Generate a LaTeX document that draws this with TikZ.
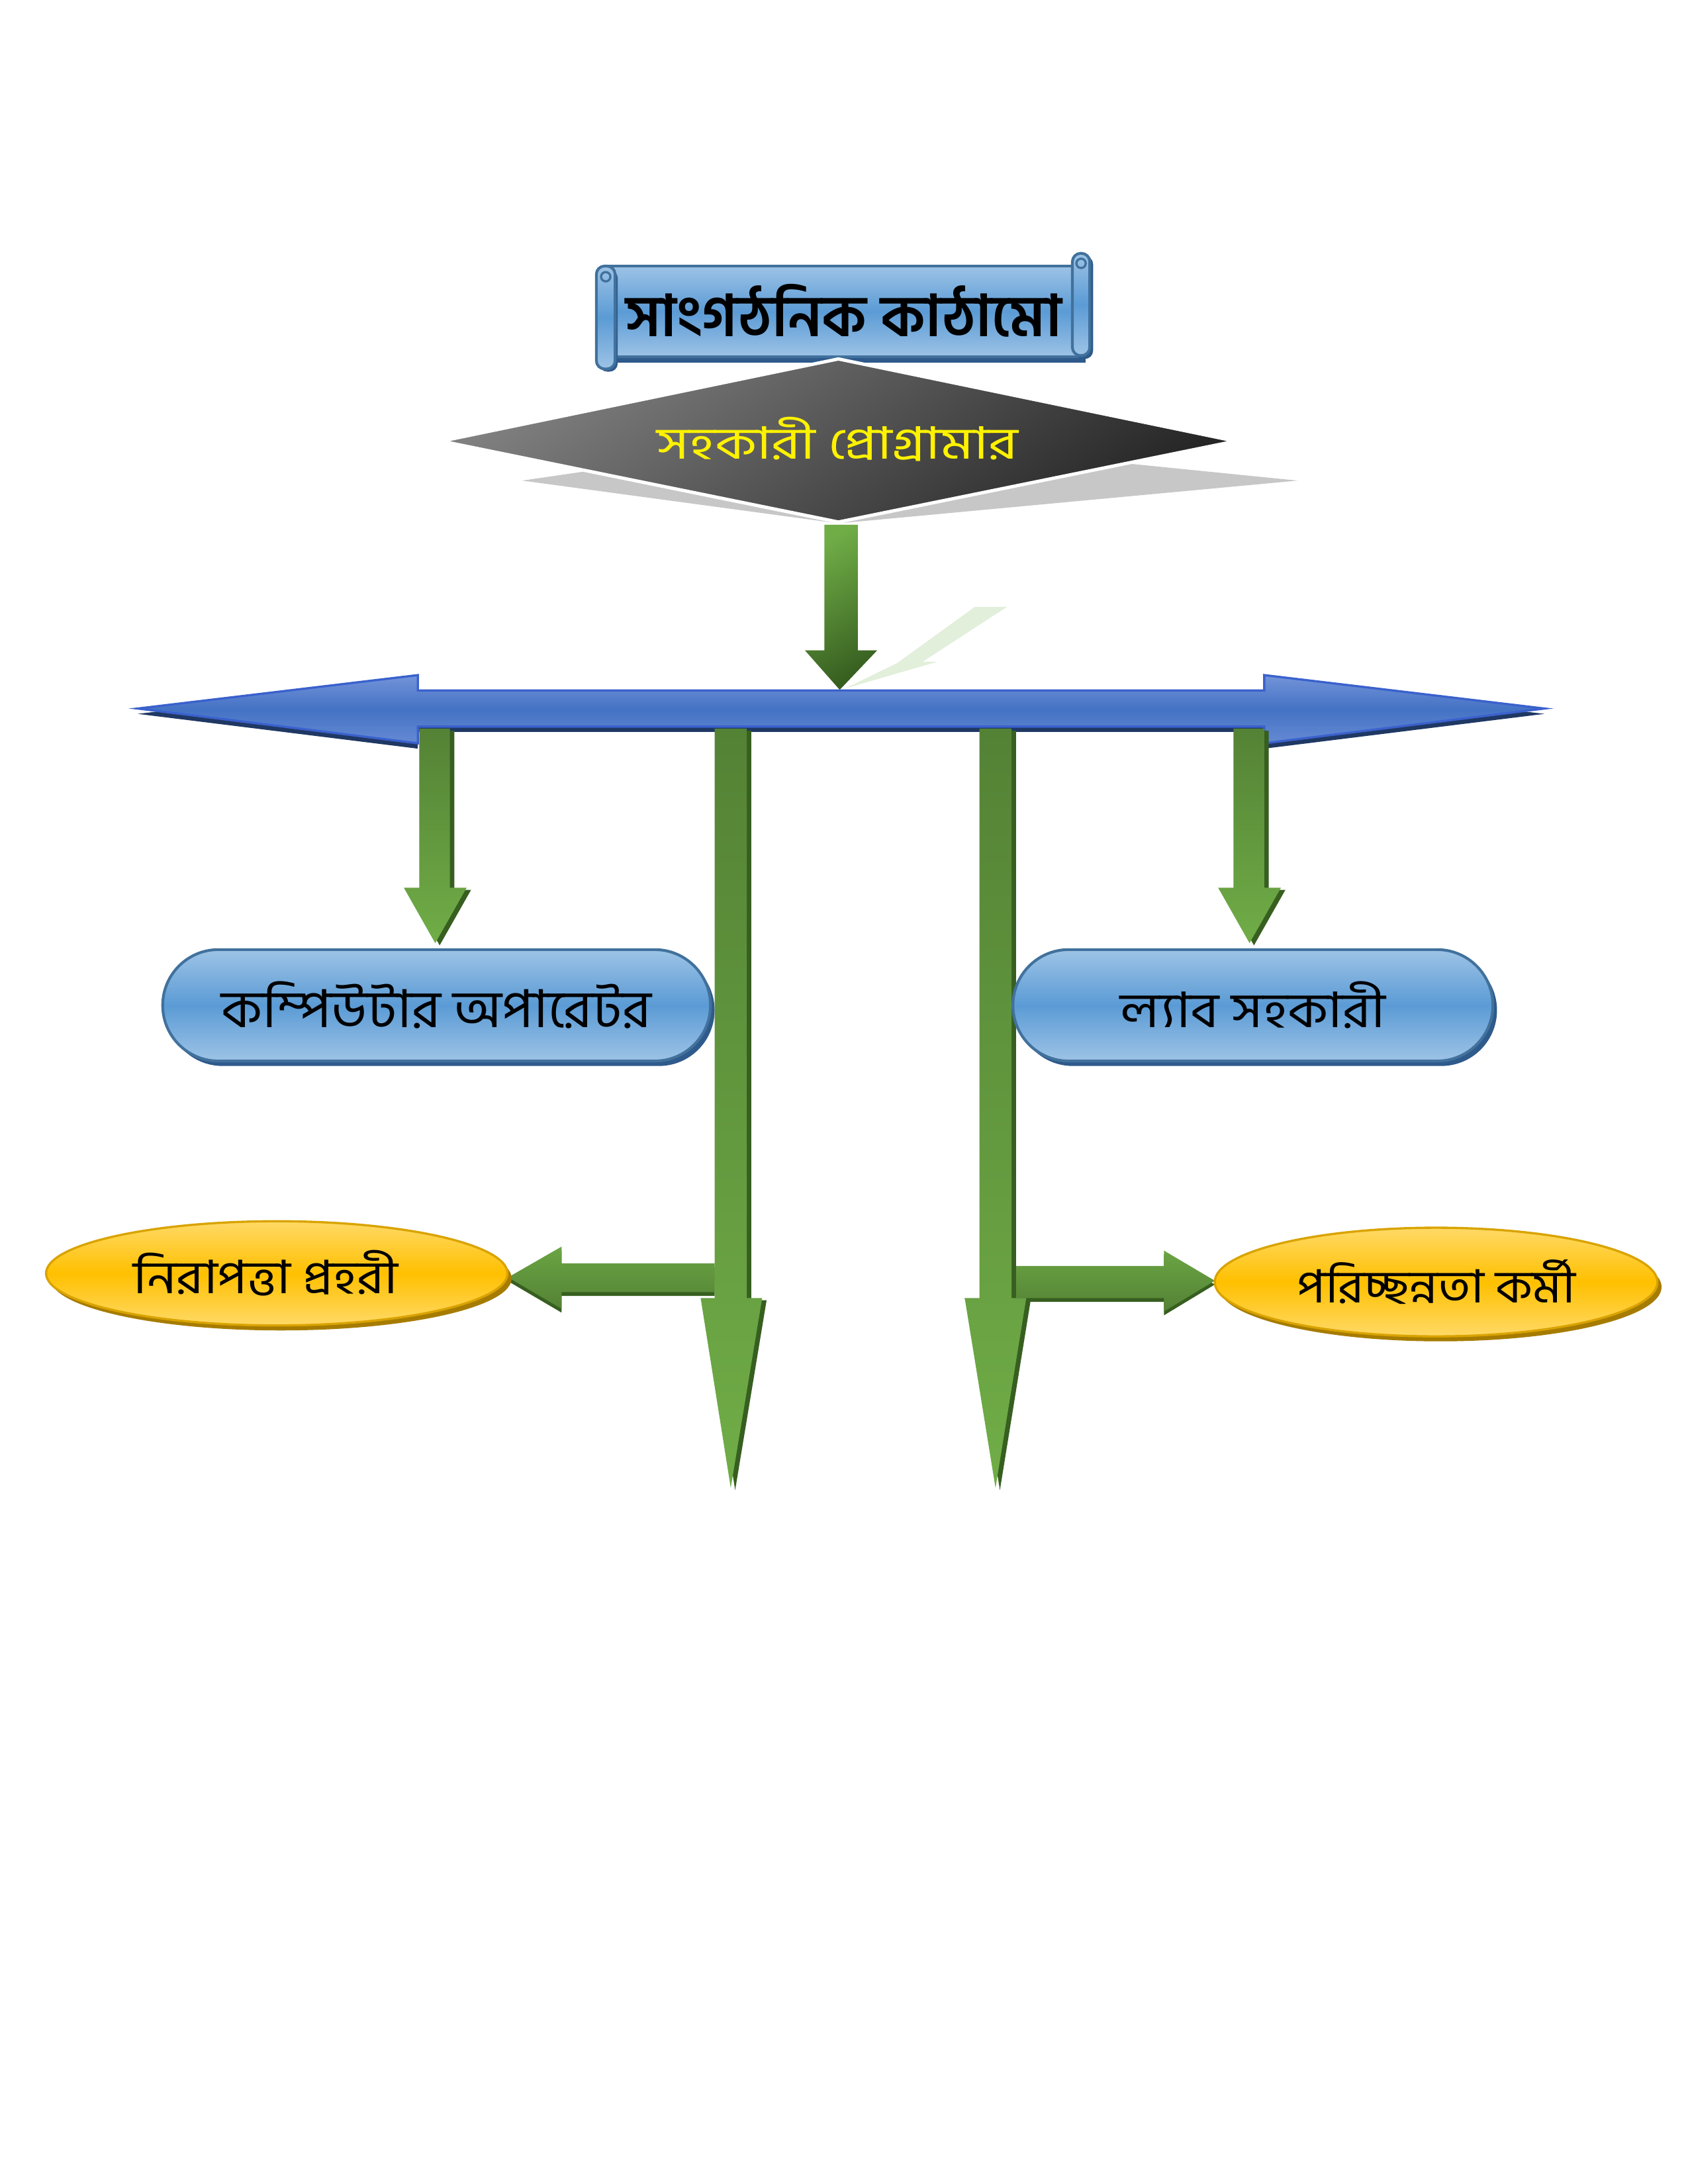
\documentclass[tikz,border=0pt]{standalone}
\usepackage{fontspec}
\newfontfamily\bn[Script=Bengali]{Hind Siliguri}
\usetikzlibrary{shapes.misc,shapes.geometric,shadows}
\definecolor{blueL}{HTML}{9DC3E6}
\definecolor{blueM}{HTML}{5B9BD5}
\definecolor{blueE}{HTML}{41719C}
\definecolor{blueS}{HTML}{2E5A8C}
\definecolor{barL}{HTML}{7394D9}
\definecolor{barM}{HTML}{4472C4}
\definecolor{barS}{HTML}{1F3864}
\definecolor{grnL}{HTML}{70AD47}
\definecolor{grnD}{HTML}{548235}
\definecolor{grnS}{HTML}{375F20}
\definecolor{ylwL}{HTML}{FFD966}
\definecolor{ylwM}{HTML}{FFC000}
\definecolor{ylwS}{HTML}{A67C00}
\definecolor{pale}{HTML}{E2EFDA}
\tikzset{
  capsule/.style={rounded rectangle, minimum height=40.4bp, inner sep=0pt,
    top color=blueL, bottom color=blueL, middle color=blueM, draw=blueE, line width=1bp,
    drop shadow={shadow xshift=1.5bp, shadow yshift=-1.8bp, fill=blueS, opacity=1}},
  oval/.style={ellipse, inner sep=0pt,
    top color=ylwL, bottom color=ylwL, middle color=ylwM, draw=ylwM!85!black, line width=0.8bp,
    drop shadow={shadow xshift=1.5bp, shadow yshift=-1.8bp, fill=ylwS, opacity=1}},
  gshaft/.style={top color=grnD, bottom color=grnL},
  gshade/.style={fill=grnS},
  scrollpart/.style={top color=blueL, bottom color=blueL, middle color=blueM, draw=blueE, line width=1bp},
}
\newcommand\gdown[8]{%
  \begin{scope}[xshift=1.6bp,yshift=-0.8bp]
  \fill[gshade] (#1,#3) -- (#2,#3) -- (#2,#4) -- (#6,#4) -- (#7,#8) -- (#5,#4) -- (#1,#4) -- cycle;
  \end{scope}
  \shade[gshaft] (#1,#3) -- (#2,#3) -- (#2,#4) -- (#6,#4) -- (#7,#8) -- (#5,#4) -- (#1,#4) -- cycle;}
\begin{document}
\begin{tikzpicture}[x=0.2424bp,y=-0.2424bp]
\useasboundingbox[fill=white] (0,0) rectangle (612bp,-792bp);

% ---------- title scroll ----------
\fill[blueS] (912,406) rectangle (1624,543);
\shade[scrollpart] (905,398) rectangle (1617,534);
\fill[blueS,rounded corners=3bp] (896,404) rectangle (924,556);
\shade[scrollpart, rounded corners=3bp] (892,398) rectangle (920,552);
\draw[blueE, line width=0.8bp] (906,414) circle (7);
\fill[blueS,rounded corners=3bp] (1608,383) rectangle (1635,537);
\shade[scrollpart, rounded corners=3bp] (1604,379) rectangle (1630,532);
\draw[blueE, line width=0.8bp] (1617,394) circle (7);
\node[anchor=base, inner sep=0pt] (title) at (1262,503)
  {\resizebox{158bp}{19bp}{\bn\bfseries সাংগঠনিক কাঠামো}};

% ---------- diamond ----------
\fill[black!22] (781,719) -- (1254,650) -- (1941,719) -- (1254,783) -- cycle;
\shade[top color=black!50, bottom color=black!85, shading angle=35, draw=white, line width=1.2bp]
  (660,660) -- (1254,537) -- (1848,660) -- (1254,781) -- cycle;
\node[anchor=base, inner sep=0pt, text=yellow] (prog) at (1253,687)
  {\resizebox{131bp}{15.2bp}{\bn সহকারী প্রোগ্রামার}};

% ---------- arrow from diamond to bar ----------
\fill[pale] (1458,908) -- (1506,908) -- (1380,990) -- (1402,990) -- (1264,1030) -- (1342,992) -- cycle;
\fill[white] (1228,782) -- (1290,782) -- (1290,970) -- (1322,970) -- (1256,1036) -- (1198,970) -- (1228,970) -- cycle;
\shade[top color=grnL, bottom color=grnS, shading angle=30]
  (1233,785) -- (1283,785) -- (1283,973) -- (1312,973) -- (1256,1032) -- (1204,973) -- (1233,973) -- cycle;
\coordinate (hub) at (1256,1032);

% ---------- blue double arrow ----------
\fill[barS] (206,1068) -- (625,1018) -- (625,1041) -- (1891,1041) -- (1891,1018) -- (2310,1068)
  -- (1891,1120) -- (1891,1095) -- (625,1095) -- (625,1120) -- cycle;
\shade[top color=barL, bottom color=barL!70!barM, middle color=barM, draw=barM!85!blue, line width=0.8bp]
  (206,1060) -- (625,1010) -- (625,1033) -- (1891,1033) -- (1891,1010) -- (2310,1060)
  -- (1891,1112) -- (1891,1087) -- (625,1087) -- (625,1112) -- cycle;

% ---------- horizontal side arrows ----------
\begin{scope}[yshift=-1.4bp]
\fill[grnS] (1069,1890) -- (840,1890) -- (840,1865) -- (760,1911) -- (840,1958) -- (840,1933) -- (1069,1933) -- cycle;
\fill[grnS] (1513,1894) -- (1741,1894) -- (1741,1871) -- (1817,1916) -- (1741,1962) -- (1741,1942) -- (1513,1942) -- cycle;
\end{scope}
\shade[top color=grnL!80!grnD, middle color=grnL, bottom color=grnD]
  (1069,1890) -- (840,1890) -- (840,1865) -- (760,1911) -- (840,1958) -- (840,1933) -- (1069,1933) -- cycle;
\shade[top color=grnL!80!grnD, middle color=grnL, bottom color=grnD]
  (1513,1894) -- (1741,1894) -- (1741,1871) -- (1817,1916) -- (1741,1962) -- (1741,1942) -- (1513,1942) -- cycle;

% ---------- vertical arrows ----------
\gdown{627}{673}{1090}{1328}{604}{698}{651}{1411}
\gdown{1845}{1891}{1090}{1328}{1822}{1916}{1869}{1411}
\gdown{1069}{1117}{1090}{1942}{1048}{1140}{1093}{2226}
\gdown{1465}{1513}{1090}{1942}{1443}{1535}{1489}{2226}

% ---------- boxes ----------
\node[capsule, minimum width=198.6bp] (comp) at (653,1504)
  {\resizebox{156bp}{16.7bp}{\bn কম্পিউটার অপারেটর}};
\node[capsule, minimum width=174bp] (lab) at (1874,1504)
  {\resizebox{96bp}{16.7bp}{\bn ল্যাব সহকারী}};
\node[oval, minimum width=167.3bp, minimum height=37.8bp] (guard) at (414,1905)
  {\hbox{\resizebox{96bp}{15.7bp}{\bn নিরাপত্তা প্রহরী}\kern8bp}};
\node[oval, minimum width=160.5bp, minimum height=39.4bp] (clean) at (2148,1918)
  {\resizebox{101bp}{15.7bp}{\bn পরিচ্ছন্নতা কর্মী}};
\end{tikzpicture}
\end{document}
